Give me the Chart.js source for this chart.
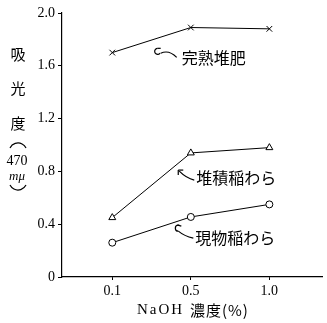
<!DOCTYPE html>
<html>
<head>
<meta charset="utf-8">
<script src="https://cdn.jsdelivr.net/npm/chart.js@4"></script>
<style>
  body { margin: 0; background: #fff; }
  #wrap { width: 327px; height: 323px; }
</style>
</head>
<body>
<div id="wrap"><canvas id="chart" width="327" height="323"></canvas></div>
<script>
// NaOH concentration categories (%)
const xLabels = ['0.1', '0.5', '1.0'];
const yTicks = [0, 0.4, 0.8, 1.2, 1.6, 2.0];

// absorbance at 470 mμ
const kanjukuTaihi = [1.70, 1.89, 1.88];   // 完熟堆肥
const taisekiWara = [0.45, 0.94, 0.98];    // 堆積稲わら
const genbutsuWara = [0.26, 0.455, 0.55];  // 現物稲わら

const seriesNames = ['完熟堆肥', '堆積稲わら', '現物稲わら'];

const NUM_FONT = "'Liberation Serif', 'DejaVu Serif', serif";
const JP_FONT = "'Noto Sans CJK JP', sans-serif";

function toPoints(values) {
    return values.map((v, i) => ({ x: i, y: v }));
}

function lineSet(label, values, style) {
    return {
        label,
        data: toPoints(values),
        borderColor: '#000',
        borderWidth: 1,
        backgroundColor: '#fff',
        pointBorderColor: '#000',
        pointBackgroundColor: '#fff',
        pointBorderWidth: 1,
        pointStyle: style,
        pointRadius: style === 'circle' ? 3.5 : 4,
        tension: 0,
        fill: false,
    };
}

function curve(ctx, x0, y0, cx, cy, x1, y1) {
    ctx.beginPath();
    ctx.moveTo(x0, y0);
    ctx.quadraticCurveTo(cx, cy, x1, y1);
    ctx.stroke();
}

const textPlugin = {
    id: 'texts',
    afterDraw(chart) {
        const ctx = chart.ctx;
        const xs = chart.scales.x;
        const ys = chart.scales.y;
        const area = chart.chartArea;
        ctx.save();
        ctx.fillStyle = '#000';
        ctx.strokeStyle = '#000';
        ctx.lineWidth = 1.2;

        // y title, written vertically
        ctx.textAlign = 'center';
        ctx.textBaseline = 'middle';
        ctx.font = '15px ' + JP_FONT;
        ['吸', '光', '度'].forEach((ch, i) => {
            ctx.fillText(ch, 18, 54 + i * 34.5);
        });
        ctx.beginPath();
        ctx.arc(18, 152, 9, Math.PI * 1.15, Math.PI * 1.85);
        ctx.stroke();
        ctx.font = '14px ' + NUM_FONT;
        ctx.fillText('470', 17, 161);
        ctx.font = 'italic 13px ' + NUM_FONT;
        ctx.fillText('mμ', 17, 177);
        ctx.beginPath();
        ctx.arc(18, 181, 9, Math.PI * 0.15, Math.PI * 0.85);
        ctx.stroke();

        // x title
        const xt1 = 'NaOH ';
        const xt2 = '濃度(%)';
        ctx.font = '15px ' + NUM_FONT;
        ctx.letterSpacing = '2px';
        const w1 = ctx.measureText(xt1).width;
        ctx.font = '15px ' + JP_FONT;
        ctx.letterSpacing = '1px';
        const w2 = ctx.measureText(xt2).width;
        const startX = 137;
        ctx.textAlign = 'left';
        ctx.font = '15px ' + NUM_FONT;
        ctx.letterSpacing = '2px';
        ctx.fillText(xt1, startX, 310);
        ctx.font = '15px ' + JP_FONT;
        ctx.letterSpacing = '1px';
        ctx.fillText(xt2, startX + w1, 310);
        ctx.letterSpacing = '0px';

        // series labels with hooked arrows
        ctx.font = '16px ' + JP_FONT;
        ctx.textBaseline = 'middle';

        // 完熟堆肥
        const t1 = { x: xs.getPixelForValue(0.54), y: ys.getPixelForValue(1.74) };
        ctx.fillText(seriesNames[0], t1.x + 27, t1.y + 11);
        curve(ctx, t1.x + 22, t1.y + 10, t1.x + 14, t1.y + 2, t1.x + 6, t1.y + 6);
        ctx.beginPath();
        ctx.arc(t1.x + 3, t1.y + 4, 3, Math.PI * 0.2, Math.PI * 1.5);
        ctx.stroke();
        curve(ctx, t1.x + 3, t1.y + 1, t1.x + 4, t1.y + 1, t1.x + 6, t1.y + 1);

        // 堆積稲わら
        const t2 = { x: xs.getPixelForValue(0.84), y: ys.getPixelForValue(0.81) };
        ctx.fillText(seriesNames[1], t2.x + 18, t2.y + 8);
        curve(ctx, t2.x + 16, t2.y + 10, t2.x + 8, t2.y + 8, t2.x + 1, t2.y + 1);
        curve(ctx, t2.x, t2.y, t2.x, t2.y, t2.x, t2.y + 5);
        curve(ctx, t2.x, t2.y, t2.x, t2.y, t2.x + 5, t2.y);

        // 現物稲わら
        const t3 = { x: xs.getPixelForValue(0.79), y: ys.getPixelForValue(0.37) };
        ctx.fillText(seriesNames[2], t3.x + 21, t3.y + 10);
        curve(ctx, t3.x + 19, t3.y + 10, t3.x + 10, t3.y + 8, t3.x + 4, t3.y + 3);
        ctx.beginPath();
        ctx.arc(t3.x + 4, t3.y, 3, Math.PI * 0.5, Math.PI * 1.6);
        ctx.stroke();
        curve(ctx, t3.x + 3, t3.y - 3, t3.x + 4, t3.y - 3, t3.x + 7, t3.y - 2);

        ctx.restore();
    }
};

new Chart(document.getElementById('chart'), {
    type: 'line',
    data: {
        datasets: [
            lineSet(seriesNames[0], kanjukuTaihi, 'crossRot'),
            lineSet(seriesNames[1], taisekiWara, 'triangle'),
            lineSet(seriesNames[2], genbutsuWara, 'circle'),
        ],
    },
    options: {
        responsive: false,
        animation: false,
        layout: { padding: { top: 13, right: 2, left: 0, bottom: 0 } },
        plugins: {
            legend: { display: false },
            tooltip: { enabled: false },
        },
        scales: {
            x: {
                type: 'linear',
                min: -0.64,
                max: 2.67,
                afterBuildTicks: (scale) => {
                    scale.ticks = xLabels.map((_, i) => ({ value: i }));
                },
                afterFit: (scale) => { scale.height = 46; },
                ticks: {
                    color: '#000',
                    font: { family: NUM_FONT, size: 14 },
                    padding: 3,
                    maxRotation: 0,
                    callback: (v) => xLabels[v] ?? '',
                },
                grid: { drawOnChartArea: false, color: '#000', tickLength: 3 },
                border: { color: '#000', width: 1.2 },
            },
            y: {
                min: 0,
                max: 2.0,
                afterBuildTicks: (scale) => {
                    scale.ticks = yTicks.map((v) => ({ value: v }));
                },
                afterFit: (scale) => { scale.width = 62; },
                ticks: {
                    color: '#000',
                    font: { family: NUM_FONT, size: 14 },
                    padding: 3,
                    callback: (v) => (v === 0 ? '0' : v.toFixed(1)),
                },
                grid: { drawOnChartArea: false, color: '#000', tickLength: 4 },
                border: { color: '#000', width: 1.2 },
            },
        },
    },
    plugins: [textPlugin],
});
</script>
</body>
</html>
